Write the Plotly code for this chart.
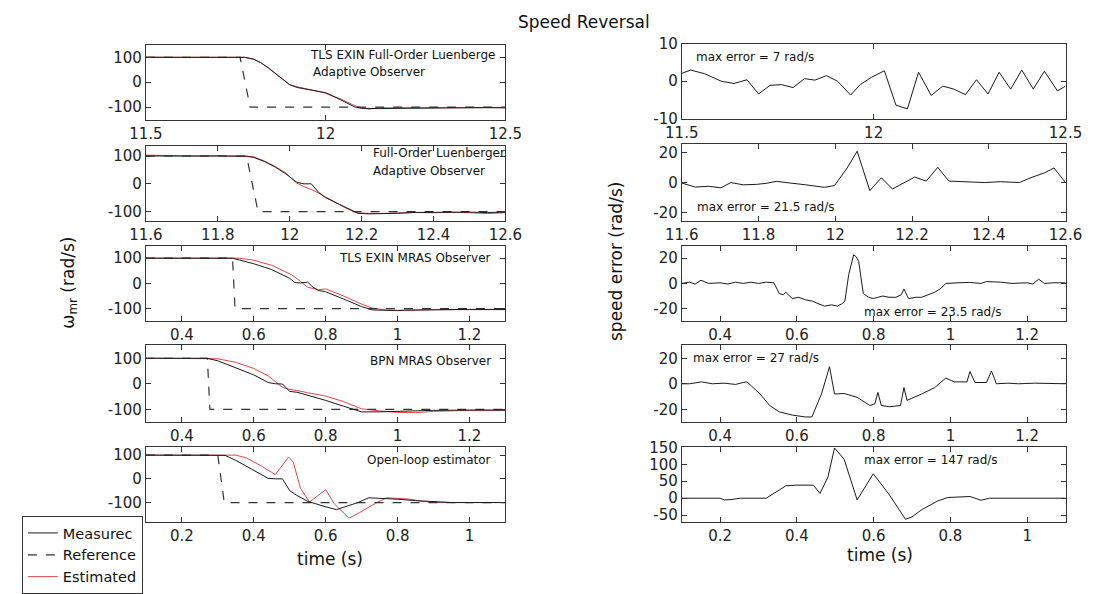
import plotly.graph_objects as go

W, H = 1099, 594
FONT = "DejaVu Sans"

# ---------------- data: left column (speed, rad/s) ----------------
# Panel 1: TLS EXIN Full-Order Luenberger Adaptive Observer
t_ref_1 = [11.5, 11.762, 11.79, 12.5]
ref_1 = [100, 100, -100, -100]
t_1 = [11.5, 11.55, 11.6, 11.65, 11.7, 11.75, 11.775, 11.8, 11.82, 11.84, 11.86, 11.88, 11.9, 11.92,
       11.94, 11.96, 11.98, 12.0, 12.02, 12.04, 12.06, 12.08, 12.1, 12.12, 12.15, 12.2, 12.25, 12.3,
       12.35, 12.4, 12.45, 12.5]
meas_1 = [100, 100, 100, 100, 100, 100, 100, 92, 78, 58, 35, 12, -10, -21, -26, -30, -35, -42, -55,
          -70, -86, -99, -105, -106, -106, -105, -104, -104, -103, -103, -102, -103]
est_1 = [101, 99, 100, 100, 101, 100, 100, 93, 78, 59, 35, 11, -10, -18, -24, -29, -35, -44, -57,
         -66, -80, -94, -103, -108, -103, -103, -102, -102, -104, -101, -104, -102]

# Panel 2: Full-Order Luenberger Adaptive Observer
t_ref_2 = [11.6, 11.88, 11.912, 12.6]
ref_2 = [100, 100, -100, -100]
t_2 = [11.6, 11.65, 11.7, 11.75, 11.8, 11.85, 11.88, 11.9, 11.93, 11.96, 11.99, 12.02, 12.04, 12.06,
       12.08, 12.1, 12.13, 12.16, 12.19, 12.22, 12.25, 12.3, 12.35, 12.4, 12.45, 12.5, 12.55, 12.6]
meas_2 = [100, 100, 100, 100, 100, 100, 100, 95, 80, 60, 35, 5, 0, 0, -30, -50, -68, -88, -106,
          -108, -108, -106, -103, -102, -103, -102, -103, -102]
est_2 = [103, 102, 100, 100, 101, 100, 100, 97, 82, 62, 38, 2, -10, -20, -33, -48, -70, -90, -105,
         -107, -107, -105, -103, -104, -102, -104, -107, -104]

# Panel 3: TLS EXIN MRAS Observer
t_ref_3 = [0.3, 0.541, 0.548, 1.3]
ref_3 = [100, 100, -100, -100]
t_3 = [0.3, 0.4, 0.5, 0.54, 0.56, 0.6, 0.65, 0.7, 0.715, 0.73, 0.75, 0.765, 0.78, 0.8, 0.85, 0.9,
       0.93, 0.97, 1.0, 1.02, 1.1, 1.2, 1.3]
meas_3 = [100, 100, 100, 100, 93, 78, 55, 20, 3, 2, 5, -15, -28, -33, -62, -92, -105, -108, -108,
          -106, -104, -103, -103]
est_3 = [100, 100, 100, 100, 100, 92, 72, 38, 25, 8, -15, -20, -25, -22, -50, -82, -98, -106, -108,
         -107, -104, -103, -104]

# Panel 4: BPN MRAS Observer
t_ref_4 = [0.3, 0.471, 0.478, 1.3]
ref_4 = [100, 100, -100, -100]
t_4 = [0.3, 0.4, 0.47, 0.5, 0.55, 0.6, 0.64, 0.66, 0.68, 0.7, 0.72, 0.75, 0.8, 0.85, 0.9, 0.95,
       1.0, 1.05, 1.1, 1.2, 1.3]
meas_4 = [100, 100, 100, 90, 62, 35, 5, 0, -1, -30, -33, -45, -65, -88, -110, -110, -108, -105,
          -104, -103, -103]
est_4 = [100, 100, 100, 98, 84, 60, 31, 10, -14, -22, -26, -35, -48, -70, -98, -106, -112, -113,
         -108, -104, -104]

# Panel 5: Open-loop estimator
t_ref_5 = [0.1, 0.3, 0.318, 1.1]
ref_5 = [100, 100, -100, -100]
t_meas_5 = [0.1, 0.2, 0.31, 0.32, 0.35, 0.4, 0.44, 0.46, 0.48, 0.49, 0.5, 0.52, 0.55, 0.6, 0.63,
            0.66, 0.69, 0.72, 0.76, 0.8, 0.85, 0.9, 0.95, 1.0, 1.1]
meas_5 = [100, 100, 100, 99, 78, 35, 2, 0, 0, -25, -50, -70, -95, -118, -130, -115, -100, -80, -82,
          -86, -92, -97, -100, -100, -100]
t_est_5 = [0.1, 0.2, 0.35, 0.38, 0.42, 0.46, 0.48, 0.497, 0.51, 0.53, 0.555, 0.6, 0.625, 0.665,
           0.695, 0.74, 0.77, 0.83, 0.87, 0.9, 0.95, 1.0, 1.1]
est_5 = [100, 100, 100, 88, 55, 18, 60, 92, 70, -40, -98, -46, -107, -166, -142, -102, -80, -85,
         -95, -99, -100, -100, -100]

# ---------------- data: right column (speed error, rad/s) ----------------
t_err_1 = [11.5, 11.523, 11.56, 11.603, 11.636, 11.67, 11.70, 11.73, 11.76, 11.79, 11.82, 11.847,
           11.877, 11.906, 11.94, 11.965, 11.995, 12.028, 12.058, 12.088, 12.117, 12.15, 12.18,
           12.209, 12.239, 12.268, 12.298, 12.327, 12.357, 12.386, 12.416, 12.445, 12.479, 12.5]
err_1 = [2.1, 3.0, 2.0, 0.0, -0.6, 0.4, -3.4, -1.1, -0.9, -1.7, 0.7, 0.3, 1.5, 0.0, -3.7, -0.9, 1.1,
         2.8, -6.4, -7.4, 2.4, -3.8, -1.3, -2.1, -3.6, 0.4, -3.4, 2.4, -2.1, 3.0, -2.1, 2.7, -2.6, -1.3]

t_err_2 = [11.6, 11.635, 11.67, 11.702, 11.728, 11.76, 11.795, 11.82, 11.846, 11.88, 11.923, 11.972,
           11.998, 12.031, 12.057, 12.09, 12.12, 12.149, 12.18, 12.207, 12.237, 12.267, 12.296,
           12.35, 12.39, 12.43, 12.48, 12.51, 12.545, 12.57, 12.6]
err_2 = [-0.3, -3, -2.5, -3.5, 0, -1.5, -1.2, -0.5, 0.8, 0, -1.5, -3.2, -2, 9.8, 21, -5.4, 3.2, -4.3,
         0, 3.7, 1, 10.2, 1, 0.6, 0, 0.6, 0, 3.3, 6.5, 9.8, 0]

t_err_3 = [0.3, 0.32, 0.335, 0.35, 0.37, 0.4, 0.42, 0.44, 0.46, 0.48, 0.5, 0.52, 0.54, 0.554, 0.565,
           0.571, 0.588, 0.605, 0.622, 0.64, 0.655, 0.672, 0.69, 0.706, 0.718, 0.725, 0.735, 0.748,
           0.755, 0.761, 0.773, 0.787, 0.799, 0.81, 0.824, 0.84, 0.858, 0.872, 0.879, 0.891, 0.91,
           0.925, 0.94, 0.959, 0.975, 0.988, 1.02, 1.05, 1.08, 1.094, 1.13, 1.16, 1.2, 1.215, 1.23,
           1.245, 1.27, 1.3]
err_3 = [0, 1, -0.5, 2.5, 0, 0.5, -0.5, 1, 0, 1, 0, 1, 0.5, -8, -9, -7, -12, -11, -13, -14, -16, -18,
         -17, -18, -16, -14, 7, 22.7, 21, 17.5, -8, -11, -12, -11, -10, -11, -11, -9, -4.4, -12, -11,
         -11, -9, -7, -4, 0, 0.5, 0.8, 0, 1.5, 1, 0, 0.5, -0.5, 3.4, 0, 0.5, 0.5]

t_err_4 = [0.3, 0.32, 0.352, 0.38, 0.41, 0.44, 0.46, 0.47, 0.479, 0.504, 0.529, 0.554, 0.588, 0.622,
           0.639, 0.664, 0.685, 0.698, 0.723, 0.757, 0.79, 0.803, 0.811, 0.82, 0.841, 0.87, 0.879,
           0.887, 0.925, 0.959, 0.988, 1.01, 1.043, 1.051, 1.064, 1.094, 1.107, 1.12, 1.15, 1.178,
           1.22, 1.26, 1.3]
err_4 = [0, 0, 1.5, 0, 0.5, -0.5, 1, 1.5, -1, -8, -17, -22, -24.5, -26, -26, -8, 13.4, -8, -7.6,
         -10.6, -17, -15.7, -6.8, -17, -18, -17, -3, -13, -8, -3, 4.5, 1.5, 1.5, 9.6, 1, 1, 10, 0,
         0.5, 0, 0.5, 0, 0]

t_err_5 = [0.1, 0.2, 0.211, 0.228, 0.253, 0.32, 0.354, 0.371, 0.397, 0.443, 0.46, 0.481, 0.498,
           0.523, 0.557, 0.599, 0.641, 0.683, 0.7, 0.725, 0.767, 0.793, 0.851, 0.88, 0.902, 1.1]
err_5 = [0, 0, -5, -4, 0, 0, 24, 36.5, 38.5, 38.5, 14, 62.5, 148, 115, -5, 72, 10, -62, -55, -34,
         -8, 2, 5, -6, 0, 0]

# ---------------- text and tick labels ----------------
left_titles = ["TLS EXIN Full-Order Luenberge", "Full-Order Luenberger", "TLS EXIN MRAS Observer",
               "BPN MRAS Observer", "Open-loop estimator"]
right_titles = ["max error = 7 rad/s", "max error = 21.5 rad/s", "max error = 23.5 rad/s",
                "max error = 27 rad/s", "max error = 147 rad/s"]

x_ranges = [[11.5, 12.5], [11.6, 12.6], [0.3, 1.3], [0.3, 1.3], [0.1, 1.1]]
x_ticks = [[11.5, 12, 12.5], [11.6, 11.8, 12, 12.2, 12.4, 12.6], [0.4, 0.6, 0.8, 1, 1.2],
           [0.4, 0.6, 0.8, 1, 1.2], [0.2, 0.4, 0.6, 0.8, 1]]
x_ticktext = [["11.5", "12", "12.5"], ["11.6", "11.8", "12", "12.2", "12.4", "12.6"],
              ["0.4", "0.6", "0.8", "1", "1.2"], ["0.4", "0.6", "0.8", "1", "1.2"],
              ["0.2", "0.4", "0.6", "0.8", "1"]]
left_y_ranges = [[-150, 150], [-135, 137], [-150, 150], [-150, 150], [-182, 133]]
left_y_ticks = [-100, 0, 100]
right_y_ranges = [[-10, 10], [-26, 26], [-30, 30], [-30, 30], [-70, 150]]
right_y_ticks = [[-10, 0, 10], [-20, 0, 20], [-20, 0, 20], [-20, 0, 20], [-50, 0, 50, 100, 150]]

# ---------------- layout geometry (pixels) ----------------
left_rows = [(37, 114), (141, 219), (244, 322), (347, 426), (452, 529)]
right_rows = [(36, 113), (139, 219), (244, 322), (347, 426), (452, 529)]
LX = (133, 504)
RX = (686, 1082)


def px(x):
    return x / W


def py(y):
    return 1 - y / H


BLACK = "#1a1a1a"
RED = "rgb(228,70,70)"

fig = go.Figure()

left_series = [
    (t_1, meas_1, t_1, est_1, t_ref_1, ref_1),
    (t_2, meas_2, t_2, est_2, t_ref_2, ref_2),
    (t_3, meas_3, t_3, est_3, t_ref_3, ref_3),
    (t_4, meas_4, t_4, est_4, t_ref_4, ref_4),
    (t_meas_5, meas_5, t_est_5, est_5, t_ref_5, ref_5),
]
right_series = [(t_err_1, err_1), (t_err_2, err_2), (t_err_3, err_3), (t_err_4, err_4),
                (t_err_5, err_5)]

layout = {}
axis_common = dict(showline=True, linecolor="#333", linewidth=1, mirror="ticks", ticks="inside",
                   ticklen=5, tickcolor="#333", showgrid=False, zeroline=False,
                   tickfont=dict(family=FONT, size=15, color="#222"), fixedrange=True)

for i in range(5):
    # left panel
    n = i + 1
    xa = "x" if n == 1 else f"x{n}"
    ya = "y" if n == 1 else f"y{n}"
    tm, m, te, e, tr, r = left_series[i]
    last = (i == 4)
    fig.add_trace(go.Scatter(x=te, y=e, mode="lines", xaxis=xa, yaxis=ya,
                             line=dict(color=RED, width=1), name="Estimated",
                             showlegend=last, legendrank=3))
    fig.add_trace(go.Scatter(x=tr, y=r, mode="lines", xaxis=xa, yaxis=ya,
                             line=dict(color="#333", width=1.2, dash="dash"), name="Reference",
                             showlegend=last, legendrank=2))
    fig.add_trace(go.Scatter(x=tm, y=m, mode="lines", xaxis=xa, yaxis=ya,
                             line=dict(color=BLACK, width=1), name="Measurec",
                             showlegend=last, legendrank=1))
    top, bot = left_rows[i]
    layout[f"xaxis{'' if n == 1 else n}"] = dict(
        axis_common, domain=[px(LX[0]), px(LX[1])], anchor=ya, range=x_ranges[i],
        tickvals=x_ticks[i], ticktext=x_ticktext[i])
    layout[f"yaxis{'' if n == 1 else n}"] = dict(
        axis_common, domain=[py(bot), py(top)], anchor=xa, range=left_y_ranges[i],
        tickvals=left_y_ticks, ticktext=[str(v) for v in left_y_ticks])

    # right panel
    n = i + 6
    xa = f"x{n}"
    ya = f"y{n}"
    te_, ee_ = right_series[i]
    fig.add_trace(go.Scatter(x=te_, y=ee_, mode="lines", xaxis=xa, yaxis=ya,
                             line=dict(color=BLACK, width=1), showlegend=False,
                             name="speed error"))
    top, bot = right_rows[i]
    layout[f"xaxis{n}"] = dict(
        axis_common, domain=[px(RX[0]), px(RX[1])], anchor=ya, range=x_ranges[i],
        tickvals=x_ticks[i], ticktext=x_ticktext[i])
    layout[f"yaxis{n}"] = dict(
        axis_common, domain=[py(bot), py(top)], anchor=xa, range=right_y_ranges[i],
        tickvals=right_y_ticks[i], ticktext=[str(v) for v in right_y_ticks[i]])

annotations = []


def add_text(text, x, y, xanchor="left", size=12, angle=0):
    annotations.append(dict(text=text, x=px(x), y=py(y), xref="paper", yref="paper",
                            xanchor=xanchor, yanchor="middle", showarrow=False,
                            textangle=angle, font=dict(family=FONT, size=size, color="#111")))


# panel labels (left)
add_text(left_titles[0], 300, 47)
add_text("Adaptive Observer", 303, 65)
add_text(left_titles[1], 365, 148)
add_text("Adaptive Observer", 365, 167)
add_text(left_titles[2], 491, 257, xanchor="right")
add_text(left_titles[3], 491, 363, xanchor="right")
add_text(left_titles[4], 491, 465, xanchor="right")
# panel labels (right)
add_text(right_titles[0], 699, 50)
add_text(right_titles[1], 700, 204)
add_text(right_titles[2], 872, 312)
add_text(right_titles[3], 696, 360)
add_text(right_titles[4], 872, 465)
# titles
add_text("Speed Reversal", 585, 13, xanchor="center", size=17)
add_text("time (s)", 323, 567, xanchor="center", size=17)
add_text("time (s)", 891, 563, xanchor="center", size=17)
add_text("ω<sub>mr</sub> (rad/s)", 54, 282, xanchor="center", size=17, angle=-90)
add_text("speed error (rad/s)", 618, 260, xanchor="center", size=17, angle=-90)

fig.update_layout(
    width=W, height=H, margin=dict(l=0, r=0, t=0, b=0),
    paper_bgcolor="white", plot_bgcolor="white",
    font=dict(family=FONT, color="#111"),
    annotations=annotations,
    legend=dict(x=px(5), y=py(523), xanchor="left", yanchor="top", bordercolor="#333",
                borderwidth=1, bgcolor="white", font=dict(family=FONT, size=14.5, color="#111"),
                tracegroupgap=0, itemwidth=30),
    **layout,
)

fig.write_html("out.html")
